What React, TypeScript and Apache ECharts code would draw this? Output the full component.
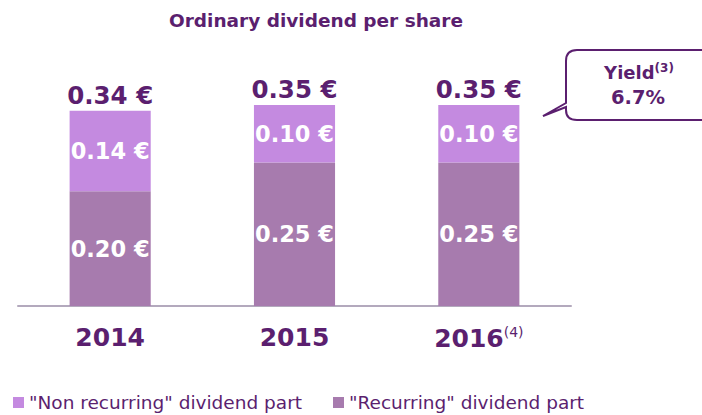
import React, { useEffect, useRef } from "react";
import * as echarts from "echarts";

const years = ["2014", "2015", "2016"];
const recurring = [0.2, 0.25, 0.25];
const nonRecurring = [0.14, 0.1, 0.1];
const totals = [0.34, 0.35, 0.35];
const yieldText = "6.7%";

const PURPLE = "#5b1f6f";
const LIGHT = "#c48ae0";
const DARK = "#a77bae";
const FONT = "DejaVu Sans";

const calloutPath =
  "M 577 50 L 712 50 L 712 120 L 577 120 Q 566 120 566 110 L 566 107 L 543 116 L 566 103 L 566 61 Q 566 50 577 50 Z";

export default function App() {
  const ref = useRef<HTMLDivElement>(null);
  useEffect(() => {
    if (!ref.current) return;
    echarts.graphic.registerShape("callout", echarts.graphic.extendPath(calloutPath, {}));
    const chart = echarts.init(ref.current, null, { renderer: "svg" });
    const valLabel = (size: number, color: string) => ({
      show: true,
      formatter: (p: any) => p.value.toFixed(2) + " €",
      fontFamily: FONT,
      fontWeight: "bold",
      fontSize: size,
      color,
    });
    chart.setOption({
      animation: false,
      textStyle: { fontFamily: FONT },
      title: {
        text: "Ordinary dividend per share",
        left: 311,
        top: 6,
        textAlign: "center",
        textStyle: { fontFamily: FONT, fontWeight: "bold", fontSize: 18.5, color: PURPLE },
      },
      legend: {
        data: ['"Non recurring" dividend part', '"Recurring" dividend part'],
        left: 8,
        top: 388,
        icon: "rect",
        itemWidth: 11,
        itemHeight: 11,
        itemGap: 31,
        textStyle: { fontFamily: FONT, fontSize: 18.5, color: PURPLE },
      },
      grid: { left: 18, right: 131, top: 105, bottom: 109 },
      xAxis: {
        type: "category",
        data: years,
        axisLine: { lineStyle: { color: "#b3a9bd", width: 2 } },
        axisTick: { show: false },
        axisLabel: {
          margin: 19,
          formatter: (v: string) => (v === "2016" ? "{y|2016}{s|(4)}" : "{y|" + v + "}"),
          rich: {
            y: { fontFamily: FONT, fontWeight: "bold", fontSize: 25, color: PURPLE },
            s: { fontFamily: FONT, fontSize: 14, color: PURPLE, verticalAlign: "top", padding: [0, 0, 12, 0] },
          },
        },
      },
      yAxis: { type: "value", min: 0, max: 0.35, show: false, splitLine: { show: false } },
      series: [
        {
          name: '"Recurring" dividend part',
          type: "bar",
          stack: "d",
          barWidth: "44%",
          data: recurring,
          itemStyle: { color: DARK },
          label: { ...valLabel(22.5, "#fff"), position: "inside" },
        },
        {
          name: '"Non recurring" dividend part',
          type: "bar",
          stack: "d",
          barWidth: "44%",
          data: nonRecurring,
          itemStyle: { color: LIGHT },
          label: { ...valLabel(22.5, "#fff"), position: "inside" },
        },
        {
          name: "total",
          type: "bar",
          barGap: "-100%",
          barWidth: "44%",
          data: totals,
          itemStyle: { color: "transparent" },
          silent: true,
          label: { ...valLabel(24.5, PURPLE), position: "top", distance: 3 },
          z: 5,
        },
      ],
      graphic: [
        {
          type: "callout",
          shape: {},
          style: { fill: "#fff", stroke: PURPLE, lineWidth: 2 },
        },
        {
          type: "text",
          x: 639,
          y: 72,
          style: {
            text: "{b|Yield}{s|(3)}",
            align: "center",
            verticalAlign: "middle",
            rich: {
              b: { fontFamily: FONT, fontWeight: "bold", fontSize: 18, fill: PURPLE },
              s: { fontFamily: FONT, fontWeight: "bold", fontSize: 12, fill: PURPLE, verticalAlign: "top", padding: [0, 0, 8, 0] },
            },
          },
        },
        {
          type: "text",
          x: 638,
          y: 97,
          style: {
            text: yieldText,
            align: "center",
            verticalAlign: "middle",
            fontFamily: FONT,
            fontWeight: "bold",
            fontSize: 19.5,
            fill: PURPLE,
          },
        },
      ],
    });
    return () => chart.dispose();
  }, []);
  return (
    <div
      ref={ref}
      style={{ position: "fixed", left: 0, top: 0, width: 702, height: 415, background: "#fff" }}
    />
  );
}
